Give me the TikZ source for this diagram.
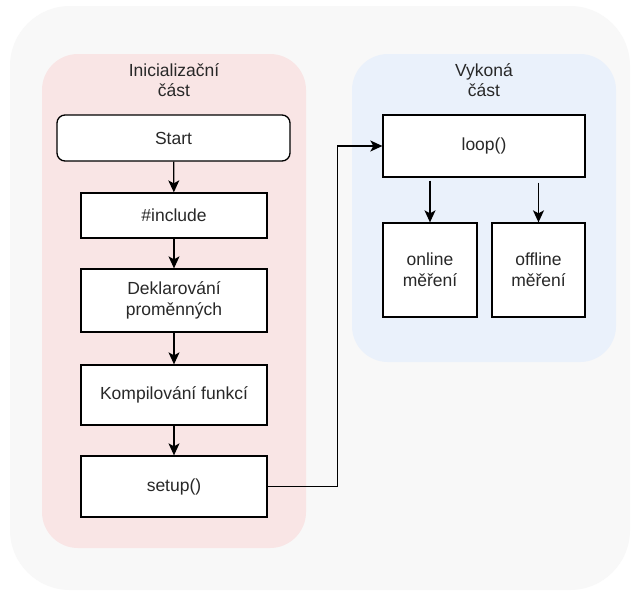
\documentclass[tikz,border=0pt]{standalone}
\usepackage{fontspec}
\setmainfont{Liberation Sans}
\usetikzlibrary{arrows.meta}
\definecolor{outerbg}{RGB}{248,248,248}
\definecolor{pinkbg}{RGB}{249,229,229}
\definecolor{bluebg}{RGB}{234,241,251}
\definecolor{txt}{RGB}{40,40,40}
\tikzset{
  box/.style={draw=black, line width=1.3pt, fill=white, text=txt, align=center, inner sep=0pt,
    font=\fontsize{17.5}{21}\selectfont},
  arr/.style={draw=black, line width=1.3pt, -{Stealth[length=12pt,width=11pt,inset=3pt]}},
  plabel/.style={text=txt, align=center, font=\fontsize{17.5}{20.5}\selectfont, inner sep=0pt}
}
\begin{document}
\begin{tikzpicture}[x=1pt,y=-1pt]
\useasboundingbox (0,0) rectangle (633,592);
\fill[white] (0,0) rectangle (633,592);
% outer background
\fill[outerbg, rounded corners=60pt] (10,6) rectangle (630,590);
% panels
\fill[pinkbg, rounded corners=36pt] (42,54) rectangle (306,548);
\fill[bluebg, rounded corners=36pt] (352,54) rectangle (616,362);
\node[plabel] (lblinit) at (174,80) {Inicializační\\část};
\node[plabel] (lblexec) at (484,80) {Vykoná\\část};
% left column
\node[box, rounded corners=8pt, minimum width=233pt, minimum height=46pt] (start) at (173.5,138) {Start};
\node[box, minimum width=186pt, minimum height=45pt] (inc) at (174,215.5) {\#include};
\node[box, minimum width=186pt, minimum height=63pt] (dek) at (174,300.5) {Deklarování\\proměnných};
\node[box, minimum width=186pt, minimum height=60pt] (komp) at (174,395) {Kompilování funkcí};
\node[box, minimum width=186pt, minimum height=61pt] (setup) at (174,486.5) {setup()};
% right
\node[box, minimum width=202pt, minimum height=62pt] (loop) at (484,146) {loop()};
\node[box, minimum width=94pt, minimum height=94pt] (online) at (430,270) {online\\měření};
\node[box, minimum width=93pt, minimum height=94pt] (offline) at (538.5,270) {offline\\měření};
% connectors
\draw[arr] (start) -- (inc);
\draw[arr] (inc) -- (dek);
\draw[arr] (dek) -- (komp);
\draw[arr] (komp) -- (setup);
\draw[arr] (setup.east) -- ++(70,0) |- (loop.west);
\draw[arr, shorten <=3pt] (loop.south -| online.north) -- (online.north);
\draw[arr, shorten <=5pt] (loop.south -| offline.north) -- (offline.north);
\end{tikzpicture}
\end{document}
